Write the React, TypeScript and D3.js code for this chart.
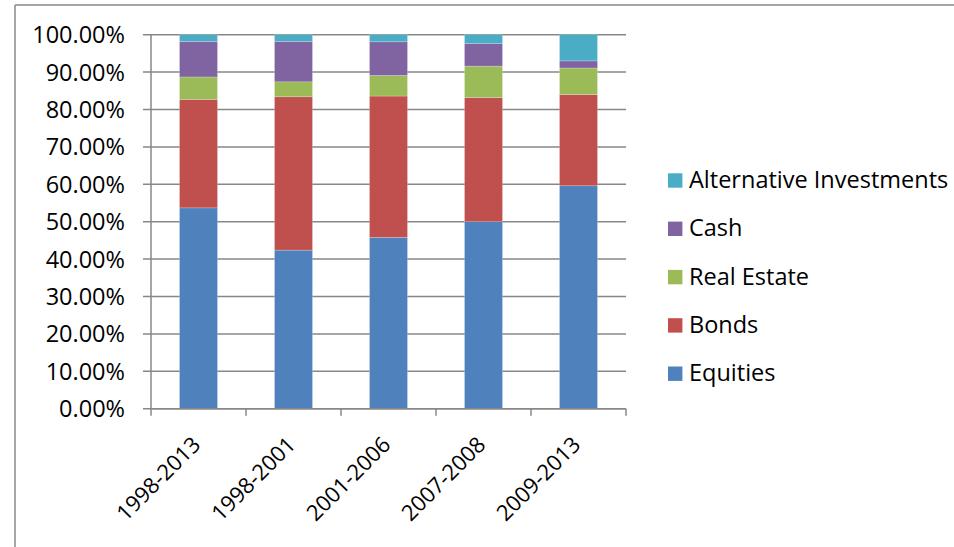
import React from "react";
import * as d3 from "d3";

const categories = ["1998-2013", "1998-2001", "2001-2006", "2007-2008", "2009-2013"];
const seriesNames = ["Equities", "Bonds", "Real Estate", "Cash", "Alternative Investments"];
const equities = [53.7, 42.4, 45.8, 50.0, 59.6];
const bonds = [29.0, 41.0, 37.8, 33.2, 24.4];
const realEstate = [6.0, 4.0, 5.5, 8.4, 7.1];
const cash = [9.5, 10.8, 9.0, 6.0, 1.9];
const alternatives = [1.8, 1.8, 1.9, 2.4, 7.0];
const yTicks = [0, 10, 20, 30, 40, 50, 60, 70, 80, 90, 100];
const colors = ["#4F81BD", "#C0504D", "#9BBB59", "#8064A2", "#4BACC6"];

const W = 954;
const H = 547;
const FONT = "'Open Sans', Lato, sans-serif";
const FS = 23.5;
const FSX = 22;

export default function App() {
  const valuesBySeries = [equities, bonds, realEstate, cash, alternatives];
  const rows = categories.map((c, i) => {
    const r: any = { cat: c };
    seriesNames.forEach((s, k) => (r[s] = valuesBySeries[k][i]));
    return r;
  });
  const stacked = d3.stack<any>().keys(seriesNames)(rows);

  const left = 151;
  const right = 626;
  const top = 34.7;
  const bottom = 408.7;

  const x = d3.scaleBand<string>().domain(categories).range([left, right]).paddingInner(0.6).paddingOuter(0.3);
  const xOuter = d3.scaleBand<string>().domain(categories).range([left, right]);
  const y = d3.scaleLinear().domain([0, 100]).range([bottom, top]);
  const grid = "#878787";

  const legendOrder = [...seriesNames].reverse();

  return (
    <svg width={W} height={H} style={{ position: "absolute", left: 0, top: 0, background: "#fff" }} fontFamily={FONT}>
      <rect x={0} y={0} width={W} height={H} fill="#fff" />
      {/* outer frame */}
      <line x1={15} y1={5} x2={W} y2={5} stroke="#888" strokeWidth={1.5} />
      <line x1={15} y1={5} x2={15} y2={H} stroke="#888" strokeWidth={1.5} />

      {/* gridlines */}
      {yTicks.map((t) => (
        <g key={t}>
          <line x1={143} x2={right} y1={y(t)} y2={y(t)} stroke={grid} strokeWidth={1.5} />
          <text x={125} y={y(t) + 8.5} textAnchor="end" fontSize={FS} fill="#000">
            {t.toFixed(2) + "%"}
          </text>
        </g>
      ))}
      {/* y axis */}
      <line x1={left} x2={left} y1={top} y2={bottom} stroke={grid} strokeWidth={1.5} />

      {/* bars */}
      {stacked.map((s, k) => (
        <g key={s.key} fill={colors[k]}>
          {s.map((d, i) => (
            <rect
              key={i}
              x={x(categories[i])!}
              width={x.bandwidth()}
              y={y(d[1])}
              height={y(d[0]) - y(d[1])}
              stroke="#fff"
              strokeOpacity={0.35}
              strokeWidth={0.6}
            />
          ))}
        </g>
      ))}

      {/* x axis */}
      <line x1={left} x2={right} y1={bottom} y2={bottom} stroke={grid} strokeWidth={1.5} />
      {[...categories.map((c) => xOuter(c)!), right].map((tx, i) => (
        <line key={i} x1={tx} x2={tx} y1={bottom} y2={bottom + 7} stroke={grid} strokeWidth={1.5} />
      ))}
      {categories.map((c) => {
        const cx = xOuter(c)! + xOuter.bandwidth() / 2 - 3;
        const cy = bottom + 31;
        return (
          <text
            key={c}
            x={cx}
            y={cy}
            textAnchor="end"
            dominantBaseline="central"
            fontSize={FSX}
            fill="#000"
            transform={`rotate(-45, ${cx}, ${cy})`}
          >
            {c}
          </text>
        );
      })}

      {/* legend */}
      {legendOrder.map((name, j) => {
        const k = seriesNames.indexOf(name);
        const cy = 180.5 + j * 48.3;
        return (
          <g key={name}>
            <rect x={668} y={cy - 7.2} width={14.4} height={14.4} fill={colors[k]} />
            <text x={689} y={cy + 7.5} fontSize={FS} fill="#000">
              {name}
            </text>
          </g>
        );
      })}
    </svg>
  );
}
